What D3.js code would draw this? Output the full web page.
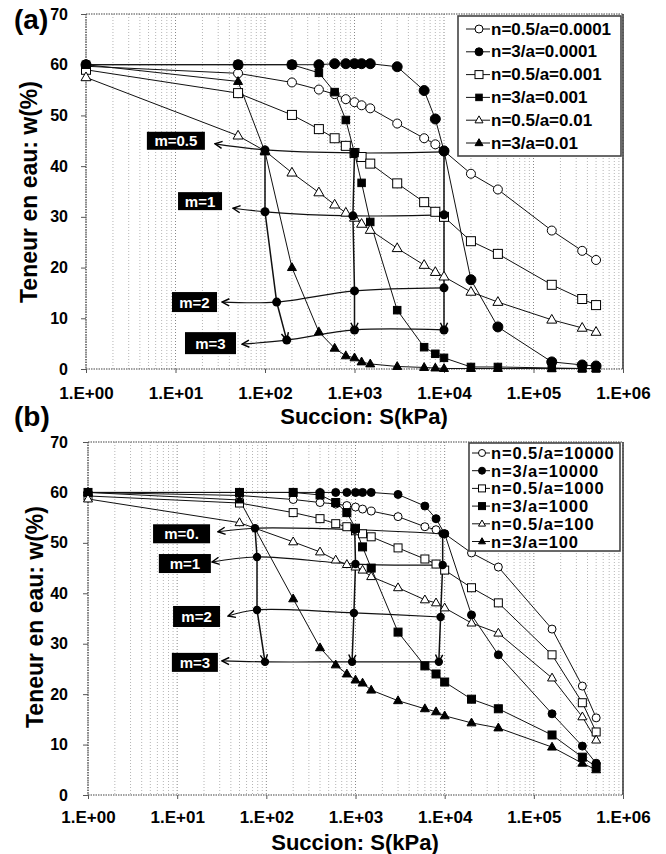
<!DOCTYPE html>
<html><head><meta charset="utf-8">
<script src="https://cdn.jsdelivr.net/npm/d3@7"></script>
<style>body{margin:0;background:#fff}svg{display:block}</style>
</head><body>
<svg id="c" width="666" height="854"></svg>
<script>
// ---------------- DATA ----------------
const xTickValues = [1, 10, 100, 1000, 10000, 100000, 1000000];
const xTickLabels = ["1.E+00","1.E+01","1.E+02","1.E+03","1.E+04","1.E+05","1.E+06"];
const yTickValues = [0, 10, 20, 30, 40, 50, 60, 70];

const legendA = ["n=0.5/a=0.0001","n=3/a=0.0001","n=0.5/a=0.001","n=3/a=0.001","n=0.5/a=0.01","n=3/a=0.01"];
const legendB = ["n=0.5/a=10000","n=3/a=10000","n=0.5/a=1000","n=3/a=1000","n=0.5/a=100","n=3/a=100"];

// Panel (a): suction grids (kPa)
const suctionA    = [1, 50, 200, 400, 600, 800, 1000, 1200, 1500, 3000, 6000, 8000, 10000, 20000, 40000, 160000, 350000, 500000];
const suctionA100 = [1, 50, 100, 200, 400, 600, 800, 1000, 1200, 1500, 3000, 6000, 8000, 10000, 20000, 40000, 160000, 350000, 500000];
// Panel (a): water content w(%)
const wA1 = [59.7, 58.3, 56.5, 55.1, 54.2, 53.2, 52.6, 52.0, 51.4, 48.4, 45.5, 44.3, 43.0, 38.5, 35.4, 27.3, 23.3, 21.5];
const wA2 = [60, 60, 60, 60, 60.2, 60.2, 60.2, 60.2, 60.2, 59.6, 54.9, 49.3, 43.0, 17.6, 8.3, 1.4, 0.8, 0.6];
const wA3 = [59.0, 54.4, 50.1, 47.3, 45.5, 44.0, 42.6, 41.8, 40.5, 36.6, 32.9, 31.0, 30.0, 25.2, 22.7, 16.6, 13.8, 12.6];
const wA4 = [60, 60, 60, 58.4, 54.6, 49.1, 42.6, 36.7, 29.0, 11.6, 4.3, 3.0, 2.2, 0.4, 0.4, 0.2, 0.1, 0.1];
const wA5 = [57.5, 46.0, 43.0, 38.7, 34.8, 32.4, 30.8, 29.8, 28.6, 27.4, 23.8, 20.5, 19.1, 18.2, 15.2, 13.2, 9.7, 8.1, 7.3];
const wA6 = [60, 56.7, 42.8, 20.0, 7.3, 4.1, 2.6, 2.2, 1.4, 1.0, 0.5, 0.3, 0.2, 0.1, 0.1, 0.1, 0.1, 0.1, 0.1];

// Panel (b)
const suctionB = [1, 50, 200, 400, 600, 800, 1000, 1200, 1500, 3000, 6000, 8000, 10000, 20000, 40000, 160000, 350000, 500000];
const wB1 = [60, 59.4, 58.6, 58.0, 57.7, 57.4, 57.1, 56.7, 56.3, 55.2, 53.2, 52.6, 51.8, 48.0, 45.2, 32.9, 21.6, 15.3];
const wB2 = [60, 60, 60, 60, 60, 60, 60, 60, 60, 59.6, 57.3, 54.8, 51.8, 35.7, 27.8, 16.1, 9.7, 6.3];
const wB3 = [59.3, 57.9, 56.0, 54.8, 53.8, 53.2, 52.4, 51.8, 51.2, 49.0, 46.8, 45.8, 44.6, 41.1, 38.1, 27.8, 18.3, 12.5];
const wB4 = [60, 60, 60, 59.5, 58.0, 56.0, 52.9, 49.2, 45.0, 32.3, 25.6, 24.0, 22.4, 19.0, 17.1, 11.9, 7.5, 5.6];
const wB5 = [58.7, 54.0, 50.2, 48.2, 46.6, 45.7, 45.2, 44.6, 43.3, 41.1, 38.7, 38.1, 37.1, 34.1, 32.1, 23.2, 15.5, 10.9];
const wB6 = [60, 58.5, 38.9, 29.2, 25.8, 24.0, 22.8, 22.2, 20.8, 18.7, 17.1, 16.5, 15.7, 14.3, 13.3, 9.5, 6.3, 5.0];

// m-curves: [arrow tip, column 1, column 2, column 3]
const mLabelsA = ["m=0.5", "m=1", "m=2", "m=3"];
const mSuctionA = [[27.6, 100, 1000, 10000], [43.9, 100, 960, 10000], [33.1, 135, 1000, 10000], [55.3, 175, 1000, 10000]];
const mWaterA   = [[44.4, 43.2, 42.6, 42.8], [31.7, 31.0, 30.2, 30.4], [13.2, 13.2, 15.4, 16.0], [4.9, 5.7, 7.7, 7.7]];
const mLabelAtA = [[10.1, 45.0], [18.8, 33.1], [16.3, 13.2], [24.6, 5.1]];

const mLabelsB = ["m=0.", "m=1", "m=2", "m=3"];
const mSuctionB = [[28.7, 74.6, 980, 9500], [24.6, 78.6, 1000, 9500], [37.2, 78.6, 960, 9000], [31.8, 96.6, 915, 8600]];
const mWaterB   = [[52.2, 52.9, 52.6, 51.8], [46.2, 47.2, 45.8, 45.6], [35.5, 36.7, 36.1, 35.3], [26.6, 26.4, 26.4, 26.4]];
const mLabelAtB = [[11.2, 51.8], [12.2, 45.9], [16.5, 35.4], [15.8, 26.3]];

// ---------------- DRAWING ----------------
const FONT = "'Liberation Sans', Arial, Helvetica, sans-serif";
const svg = d3.select("#c");
svg.append("rect").attr("width", 666).attr("height", 854).attr("fill", "#fff");
const defs = svg.append("defs");
defs.append("marker").attr("id", "arrow").attr("viewBox", "0 0 10 10")
  .attr("refX", 9).attr("refY", 5).attr("markerWidth", 9).attr("markerHeight", 9)
  .attr("markerUnits", "userSpaceOnUse").attr("orient", "auto")
  .append("path").attr("d", "M1,1 L9,5 L1,9").attr("fill", "none")
  .attr("stroke", "#000").attr("stroke-width", 1.6);

const shapes = ["circle", "circle", "square", "square", "triangle", "triangle"];
const filled = [false, true, false, true, false, true];

function marker(g, shape, fill, size, x, y) {
  const st = fill ? {f: "#000", s: "#000"} : {f: "#fff", s: "#000"};
  let el;
  if (shape === "circle") {
    el = g.append("circle").attr("cx", x).attr("cy", y).attr("r", size / 2);
  } else if (shape === "square") {
    el = g.append("rect").attr("x", x - size / 2).attr("y", y - size / 2).attr("width", size).attr("height", size);
  } else {
    const h = size * 0.87;
    el = g.append("path").attr("d", `M${x},${y - h * 0.62} L${x + size / 2},${y + h * 0.38} L${x - size / 2},${y + h * 0.38} Z`);
  }
  el.attr("fill", st.f).attr("stroke", st.s).attr("stroke-width", 1);
}

function drawPanel(cfg) {
  const x = d3.scaleLog().domain([1, 1e6]).range([cfg.x0, cfg.x1]);
  const y = d3.scaleLinear().domain([0, 70]).range([cfg.y0, cfg.y1]);
  const g = svg.append("g");

  // vertical grid
  const gridVals = [];
  for (let d = 0; d < 6; d++) for (let k = 1; k <= 9; k++) gridVals.push(k * Math.pow(10, d));
  gridVals.push(1e6);
  g.selectAll(null).data(gridVals).join("line")
    .attr("x1", d => x(d)).attr("x2", d => x(d)).attr("y1", cfg.y1).attr("y2", cfg.y0)
    .attr("stroke", d => (Math.abs(Math.log10(d) % 1) < 1e-9 ? "#888" : "#b5b5b5"))
    .attr("stroke-width", 1).attr("stroke-dasharray", "1,2");

  // frame
  const fr = [[cfg.x0, cfg.y1, cfg.x1, cfg.y1], [cfg.x0, cfg.y0, cfg.x1, cfg.y0], [cfg.x0, cfg.y1, cfg.x0, cfg.y0]];
  fr.forEach(f => g.append("line").attr("x1", f[0]).attr("y1", f[1]).attr("x2", f[2]).attr("y2", f[3])
    .attr("stroke", "#444").attr("stroke-width", 1.2).attr("stroke-dasharray", "1.5,1"));
  g.append("line").attr("x1", cfg.x1).attr("x2", cfg.x1).attr("y1", cfg.y1).attr("y2", cfg.y0)
    .attr("stroke", "#333").attr("stroke-width", 1.5);

  // axes
  const xa = g.append("g").attr("transform", `translate(0,${cfg.y0})`)
    .call(d3.axisBottom(x).tickValues(xTickValues).tickFormat((d, i) => xTickLabels[i]).tickSize(4).tickPadding(cfg.xPad));
  xa.select(".domain").remove();
  xa.selectAll("line").attr("stroke", "#555");
  xa.selectAll("text").attr("font-family", FONT).attr("font-weight", "bold").attr("font-size", 17).attr("fill", "#000");
  const ya = g.append("g").attr("transform", `translate(${cfg.x0},0)`)
    .call(d3.axisLeft(y).tickValues(yTickValues).tickSize(5).tickPadding(cfg.yPad));
  ya.select(".domain").remove();
  ya.selectAll("line").attr("stroke", "#555");
  ya.selectAll("text").attr("font-family", FONT).attr("font-weight", "bold").attr("font-size", 16).attr("fill", "#000");

  // titles
  g.append("text").attr("x", cfg.xTitle[0]).attr("y", cfg.xTitle[1]).attr("text-anchor", "middle")
    .attr("font-family", FONT).attr("font-weight", "bold").attr("font-size", 22).text("Succion: S(kPa)");
  g.append("text").attr("transform", `translate(${cfg.yTitle[0]},${cfg.yTitle[1]}) rotate(-90)`)
    .attr("text-anchor", "middle").attr("dominant-baseline", "central")
    .attr("font-family", FONT).attr("font-weight", "bold").attr("font-size", 23).text("Teneur en eau: w(%)");
  g.append("text").attr("x", 14).attr("y", cfg.panelY).attr("font-family", FONT).attr("font-weight", "bold")
    .attr("font-size", 28).text(cfg.panelLabel);

  const line = d3.line().x(d => x(d[0])).y(d => y(d[1]));
  // series lines
  cfg.series.forEach(s => {
    const pts = s.S.map((v, i) => [v, s.w[i]]);
    g.append("path").attr("d", line(pts)).attr("fill", "none").attr("stroke", "#111").attr("stroke-width", 1);
  });

  // m curves with arrows
  const curve = d3.line().x(d => x(d[0])).y(d => y(d[1])).curve(d3.curveCatmullRom.alpha(0.5));
  cfg.mS.forEach((ss, k) => {
    const pts = ss.map((v, i) => [v, cfg.mW[k][i]]).reverse();
    g.append("path").attr("d", curve(pts)).attr("fill", "none").attr("stroke", "#111")
      .attr("stroke-width", 1.2).attr("marker-end", "url(#arrow)");
  });
  // vertical arrows through columns
  [1, 2, 3].forEach(c => {
    const pts = cfg.mS.map((ss, k) => [ss[c], cfg.mW[k][c]]);
    g.append("path").attr("d", line(pts)).attr("fill", "none").attr("stroke", "#111")
      .attr("stroke-width", 1.5).attr("marker-end", "url(#arrow)");
  });

  // markers
  cfg.series.forEach((s, si) => {
    s.S.forEach((v, i) => marker(g, shapes[si], filled[si], cfg.mSize[si], x(v), y(s.w[i])));
  });
  // dots on m curves
  cfg.mS.forEach((ss, k) => ss.slice(1).forEach((v, i) =>
    g.append("circle").attr("cx", x(v)).attr("cy", y(cfg.mW[k][i + 1])).attr("r", cfg.dotR).attr("fill", "#000")));

  // m labels
  cfg.mLabels.forEach((lab, k) => {
    const cx = x(cfg.mAt[k][0]), cy = y(cfg.mAt[k][1]);
    const bw = cfg.boxW[k], bh = cfg.boxH[k];
    g.append("rect").attr("x", cx - bw / 2).attr("y", cy - bh / 2).attr("width", bw).attr("height", bh).attr("fill", "#000");
    g.append("text").attr("x", cx).attr("y", cy).attr("text-anchor", "middle").attr("dominant-baseline", "central")
      .attr("fill", "#fff").attr("font-family", FONT).attr("font-weight", "bold").attr("font-size", cfg.boxFont).text(lab);
  });

  // legend
  const L = cfg.legend;
  g.append("rect").attr("x", L.x).attr("y", L.y).attr("width", L.w).attr("height", L.h)
    .attr("fill", "#fff").attr("stroke", "#444").attr("stroke-width", 1.6);
  L.labels.forEach((lab, i) => {
    const ry = L.y + L.first + i * L.step;
    g.append("line").attr("x1", L.lx0).attr("x2", L.lx1).attr("y1", ry).attr("y2", ry).attr("stroke", "#111").attr("stroke-width", 1);
    marker(g, shapes[i], filled[i], L.ms[i], (L.lx0 + L.lx1) / 2 + 1, ry);
    g.append("text").attr("x", L.tx).attr("y", ry).attr("dominant-baseline", "central")
      .attr("font-family", FONT).attr("font-weight", "bold").attr("font-size", L.fs)
      .attr("letter-spacing", L.ls).text(lab);
  });
}

drawPanel({
  x0: 86, x1: 623, y0: 369, y1: 14, yPad: 13, xPad: 14,
  xTitle: [364, 424], yTitle: [29, 192], panelLabel: "(a)", panelY: 29,
  series: [
    {S: suctionA, w: wA1}, {S: suctionA, w: wA2}, {S: suctionA, w: wA3},
    {S: suctionA, w: wA4}, {S: suctionA100, w: wA5}, {S: suctionA100, w: wA6}],
  mSize: [9, 10, 9, 7.5, 10, 9],
  mS: mSuctionA, mW: mWaterA, dotR: 4.5,
  mLabels: mLabelsA, mAt: mLabelAtA, boxW: [58, 44, 45, 51], boxH: [18, 18, 20, 22], boxFont: 15,
  legend: {x: 458, y: 16, w: 163, h: 140, first: 13, step: 22.8, lx0: 466, lx1: 490, tx: 491,
    fs: 17, ls: 0, labels: legendA, ms: [8, 8, 8, 6.5, 8, 8]}
});

drawPanel({
  x0: 88, x1: 623, y0: 795, y1: 442, yPad: 15, xPad: 12,
  xTitle: [355, 850], yTitle: [35, 617], panelLabel: "(b)", panelY: 426,
  series: [
    {S: suctionB, w: wB1}, {S: suctionB, w: wB2}, {S: suctionB, w: wB3},
    {S: suctionB, w: wB4}, {S: suctionB, w: wB5}, {S: suctionB, w: wB6}],
  mSize: [8, 8, 8, 8, 9, 9],
  mS: mSuctionB, mW: mWaterB, dotR: 4.2,
  mLabels: mLabelsB, mAt: mLabelAtB, boxW: [57, 52, 47, 46], boxH: [19, 19, 21, 19], boxFont: 15,
  legend: {x: 469, y: 443, w: 151, h: 108, first: 10, step: 17.7, lx0: 472, lx1: 490, tx: 491,
    fs: 16.5, ls: 0.9, labels: legendB, ms: [7, 7, 7, 7, 7, 7]}
});
</script>
</body></html>
